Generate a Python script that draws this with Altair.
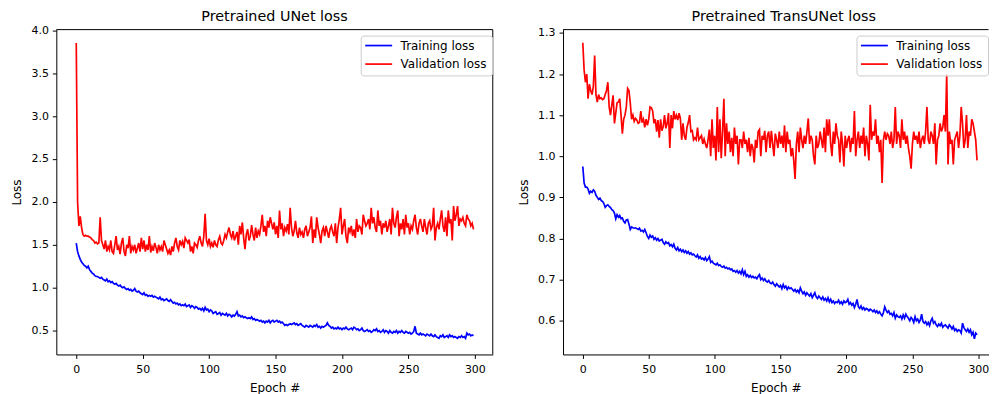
import altair as alt
import pandas as pd

epochs = list(range(300))

unet_train = [
    1.52, 1.42, 1.37, 1.33, 1.30, 1.28, 1.26, 1.25, 1.23, 1.25,
    1.21, 1.19, 1.17, 1.16, 1.14, 1.13, 1.13, 1.12, 1.11, 1.12,
    1.10, 1.09, 1.08, 1.10, 1.07, 1.08, 1.06, 1.07, 1.05, 1.04,
    1.05, 1.03, 1.02, 1.03, 1.01, 1.00, 1.01, 0.99, 0.98, 0.99,
    0.97, 0.98, 0.96, 0.97, 0.99, 0.96, 0.95, 0.96, 0.94, 0.93,
    0.92, 0.94, 0.91, 0.92, 0.90, 0.91, 0.90, 0.91, 0.89, 0.90,
    0.89, 0.88, 0.87, 0.89, 0.86, 0.87, 0.85, 0.86, 0.87, 0.85,
    0.84, 0.86, 0.84, 0.82, 0.83, 0.81, 0.82, 0.80, 0.81, 0.79,
    0.80, 0.79, 0.81, 0.78, 0.79, 0.80, 0.77, 0.79, 0.78, 0.76,
    0.78, 0.77, 0.75, 0.76, 0.74, 0.76, 0.73, 0.77, 0.74, 0.75,
    0.72, 0.74, 0.73, 0.70, 0.71, 0.72, 0.69, 0.70, 0.71, 0.68,
    0.70, 0.69, 0.68, 0.70, 0.67, 0.69, 0.68, 0.66, 0.68, 0.67,
    0.69, 0.72, 0.67, 0.68, 0.66, 0.67, 0.65, 0.66, 0.65, 0.64,
    0.65, 0.64, 0.66, 0.63, 0.64, 0.62, 0.63, 0.62, 0.61, 0.62,
    0.60, 0.61, 0.59, 0.61, 0.60, 0.62, 0.59, 0.61, 0.62, 0.60,
    0.61, 0.62, 0.60, 0.61, 0.59, 0.60, 0.58, 0.56, 0.57, 0.56,
    0.57, 0.58, 0.57, 0.58, 0.59, 0.57, 0.58, 0.56, 0.57, 0.58,
    0.56, 0.55, 0.54, 0.56, 0.55, 0.54, 0.56, 0.55, 0.54, 0.56,
    0.55, 0.57, 0.54, 0.55, 0.53, 0.55, 0.54, 0.55, 0.56, 0.59,
    0.56, 0.55, 0.53, 0.54, 0.52, 0.53, 0.52, 0.54, 0.52, 0.53,
    0.51, 0.53, 0.52, 0.54, 0.52, 0.51, 0.52, 0.53, 0.51, 0.54,
    0.53, 0.51, 0.52, 0.50, 0.51, 0.53, 0.50, 0.49, 0.50, 0.51,
    0.49, 0.50, 0.48, 0.49, 0.51, 0.50, 0.52, 0.49, 0.50, 0.48,
    0.49, 0.51, 0.48, 0.50, 0.49, 0.47, 0.50, 0.48, 0.47, 0.49,
    0.48, 0.50, 0.47, 0.49, 0.48, 0.50, 0.48, 0.47, 0.49, 0.48,
    0.47, 0.48, 0.46, 0.47, 0.49, 0.55, 0.47, 0.46, 0.45, 0.47,
    0.45, 0.46, 0.45, 0.44, 0.46, 0.45, 0.44, 0.46, 0.44, 0.43,
    0.45, 0.43, 0.42, 0.41, 0.44, 0.43, 0.45, 0.42, 0.43, 0.44,
    0.42, 0.45, 0.43, 0.44, 0.42, 0.43, 0.42, 0.41, 0.43, 0.42,
    0.44, 0.42, 0.43, 0.41, 0.47, 0.45, 0.46, 0.44, 0.45, 0.44,
]

unet_val = [
    3.85, 2.00, 1.72, 1.83, 1.70, 1.62, 1.60, 1.61, 1.60, 1.60,
    1.59, 1.58, 1.56, 1.55, 1.52, 1.53, 1.51, 1.52, 1.82, 1.55,
    1.50, 1.45, 1.55, 1.42, 1.48, 1.44, 1.55, 1.42, 1.40, 1.50,
    1.60, 1.44, 1.48, 1.39, 1.52, 1.58, 1.42, 1.37, 1.50, 1.46,
    1.60, 1.40, 1.48, 1.44, 1.50, 1.40, 1.46, 1.52, 1.42, 1.58,
    1.45, 1.55, 1.42, 1.50, 1.44, 1.60, 1.41, 1.48, 1.43, 1.52,
    1.47, 1.40, 1.50, 1.44, 1.48, 1.42, 1.55, 1.50, 1.45, 1.40,
    1.44, 1.38, 1.48, 1.42, 1.52, 1.58, 1.48, 1.44, 1.55, 1.50,
    1.54, 1.46, 1.58, 1.55, 1.52, 1.56, 1.42, 1.48, 1.40, 1.52,
    1.50, 1.47, 1.55, 1.60, 1.52, 1.48, 1.60, 1.86, 1.55, 1.50,
    1.57, 1.48, 1.52, 1.47, 1.55, 1.50, 1.48, 1.56, 1.60, 1.52,
    1.50, 1.55, 1.62, 1.58, 1.65, 1.70, 1.62, 1.58, 1.66, 1.55,
    1.60, 1.65, 1.50, 1.72, 1.62, 1.76, 1.58, 1.45, 1.62, 1.68,
    1.55, 1.60, 1.73, 1.62, 1.55, 1.70, 1.58, 1.66, 1.62, 1.72,
    1.85, 1.65, 1.72, 1.60, 1.78, 1.70, 1.82, 1.75, 1.68, 1.76,
    1.62, 1.72, 1.58, 1.90, 1.68, 1.75, 1.60, 1.70, 1.66, 1.74,
    1.62, 1.93, 1.70, 1.60, 1.66, 1.78, 1.64, 1.58, 1.70, 1.62,
    1.65, 1.58, 1.68, 1.72, 1.60, 1.65, 1.70, 1.83, 1.52, 1.68,
    1.58, 1.82, 1.70, 1.62, 1.52, 1.66, 1.70, 1.60, 1.72, 1.65,
    1.58, 1.68, 1.72, 1.65, 1.60, 1.75, 1.52, 1.70, 1.80, 1.93,
    1.62, 1.72, 1.80, 1.60, 1.52, 1.70, 1.65, 1.72, 1.60, 1.68,
    1.58, 1.80, 1.65, 1.72, 1.70, 1.62, 1.85, 1.78, 1.72, 1.75,
    1.80, 1.68, 1.93, 1.75, 1.82, 1.70, 1.65, 1.90, 1.72, 1.78,
    1.62, 1.75, 1.70, 1.78, 1.65, 1.72, 1.80, 1.62, 1.93, 1.75,
    1.70, 1.82, 1.90, 1.60, 1.75, 1.68, 1.80, 1.62, 1.85, 1.70,
    1.75, 1.62, 1.72, 1.68, 1.78, 1.85, 1.70, 1.62, 1.75, 1.80,
    1.72, 1.65, 1.80, 1.70, 1.62, 1.75, 1.78, 1.68, 1.72, 1.93,
    1.55, 1.70, 1.75, 1.68, 1.80, 1.90, 1.72, 1.65, 1.82, 1.60,
    1.90, 1.75, 1.80, 1.55, 1.95, 1.78, 1.85, 1.95, 1.72, 1.80,
    1.78, 1.82, 1.75, 1.72, 1.85, 1.80, 1.78, 1.72, 1.75, 1.68,
]

trans_train = [
    0.975, 0.935, 0.925, 0.925, 0.920, 0.910, 0.915, 0.912, 0.918, 0.915,
    0.905, 0.900, 0.895, 0.898, 0.892, 0.890, 0.885, 0.876, 0.880, 0.882,
    0.878, 0.875, 0.870, 0.868, 0.862, 0.848, 0.858, 0.852, 0.856, 0.848,
    0.850, 0.842, 0.838, 0.845, 0.846, 0.835, 0.822, 0.828, 0.826, 0.825,
    0.826, 0.824, 0.822, 0.825, 0.818, 0.820, 0.816, 0.822, 0.814, 0.805,
    0.800, 0.808, 0.803, 0.806, 0.798, 0.802, 0.796, 0.800, 0.794, 0.796,
    0.798, 0.790, 0.786, 0.792, 0.788, 0.790, 0.782, 0.785, 0.780, 0.786,
    0.776, 0.772, 0.778, 0.770, 0.774, 0.768, 0.772, 0.766, 0.770, 0.764,
    0.768, 0.762, 0.765, 0.760, 0.762, 0.758, 0.755, 0.760, 0.752, 0.756,
    0.750, 0.752, 0.748, 0.754, 0.746, 0.750, 0.756, 0.742, 0.745, 0.740,
    0.738, 0.736, 0.740, 0.734, 0.736, 0.732, 0.730, 0.733, 0.728, 0.730,
    0.726, 0.728, 0.724, 0.726, 0.720, 0.722, 0.718, 0.722, 0.716, 0.720,
    0.714, 0.724, 0.712, 0.720, 0.708, 0.712, 0.706, 0.710, 0.705, 0.708,
    0.704, 0.706, 0.702, 0.708, 0.712, 0.700, 0.704, 0.698, 0.702, 0.696,
    0.694, 0.698, 0.692, 0.690, 0.694, 0.688, 0.684, 0.690, 0.686, 0.682,
    0.686, 0.678, 0.688, 0.680, 0.684, 0.676, 0.682, 0.678, 0.680, 0.676,
    0.672, 0.676, 0.670, 0.674, 0.668, 0.680, 0.672, 0.666, 0.670, 0.662,
    0.668, 0.664, 0.660, 0.666, 0.656, 0.662, 0.668, 0.658, 0.654, 0.660,
    0.656, 0.652, 0.658, 0.650, 0.654, 0.648, 0.656, 0.646, 0.652, 0.644,
    0.648, 0.642, 0.646, 0.644, 0.650, 0.642, 0.646, 0.640, 0.648, 0.644,
    0.646, 0.652, 0.640, 0.644, 0.638, 0.642, 0.632, 0.640, 0.652, 0.634,
    0.630, 0.636, 0.628, 0.632, 0.626, 0.630, 0.628, 0.624, 0.628, 0.626,
    0.622, 0.626, 0.620, 0.624, 0.618, 0.622, 0.616, 0.612, 0.620, 0.634,
    0.626, 0.620, 0.624, 0.616, 0.618, 0.612, 0.620, 0.606, 0.614, 0.610,
    0.608, 0.612, 0.604, 0.614, 0.606, 0.616, 0.610, 0.606, 0.600, 0.608,
    0.604, 0.596, 0.610, 0.600, 0.604, 0.596, 0.602, 0.616, 0.598, 0.594,
    0.598, 0.590, 0.596, 0.588, 0.600, 0.606, 0.594, 0.598, 0.590, 0.586,
    0.592, 0.588, 0.594, 0.584, 0.588, 0.590, 0.586, 0.582, 0.590, 0.586,
    0.580, 0.586, 0.576, 0.580, 0.574, 0.578, 0.576, 0.570, 0.594, 0.584,
    0.578, 0.574, 0.580, 0.572, 0.578, 0.566, 0.572, 0.556, 0.570, 0.566,
]

trans_val = [
    1.276, 1.210, 1.180, 1.200, 1.140, 1.175, 1.160, 1.150, 1.170, 1.245,
    1.150, 1.132, 1.150, 1.140, 1.142, 1.138, 1.140, 1.150, 1.160, 1.180,
    1.120, 1.100, 1.125, 1.148, 1.080, 1.105, 1.130, 1.132, 1.140, 1.100,
    1.055, 1.090, 1.100, 1.120, 1.165, 1.160, 1.130, 1.090, 1.100, 1.085,
    1.092, 1.088, 1.080, 1.082, 1.110, 1.082, 1.090, 1.070, 1.090, 1.075,
    1.090, 1.120, 1.118, 1.110, 1.080, 1.090, 1.060, 1.088, 1.045, 1.090,
    1.062, 1.072, 1.100, 1.068, 1.080, 1.105, 1.020, 1.100, 1.068, 1.110,
    1.090, 1.100, 1.088, 1.105, 1.092, 1.040, 1.080, 1.050, 1.040, 1.070,
    1.082, 1.100, 1.060, 1.062, 1.040, 1.045, 1.040, 1.070, 1.040, 1.045,
    1.050, 1.030, 1.042, 1.030, 1.020, 1.040, 1.065, 1.000, 1.090, 1.020,
    1.050, 0.990, 1.120, 1.010, 1.090, 0.995, 1.060, 1.140, 1.000, 1.080,
    1.030, 1.060, 1.010, 1.045, 1.000, 1.070, 1.030, 1.050, 0.980, 1.040,
    1.040, 1.020, 1.060, 1.030, 1.040, 1.010, 1.045, 1.000, 1.030, 1.020,
    0.985, 1.040, 1.020, 1.060, 1.065, 1.000, 1.050, 1.040, 1.062, 1.010,
    1.050, 1.060, 1.020, 1.062, 1.030, 1.000, 1.055, 1.040, 1.020, 1.060,
    1.030, 1.050, 1.020, 1.075, 1.010, 1.060, 1.030, 1.040, 1.000, 1.020,
    0.990, 0.945, 1.030, 1.060, 1.010, 1.070, 1.040, 1.020, 1.050, 1.030,
    1.060, 1.092, 1.030, 1.050, 1.040, 1.000, 0.980, 1.050, 1.020, 1.030,
    1.060, 1.040, 1.020, 1.070, 1.010, 1.090, 1.050, 1.090, 1.030, 1.000,
    1.060, 1.030, 1.080, 1.050, 1.040, 0.985, 1.060, 1.030, 0.975, 1.050,
    1.020, 1.040, 1.050, 1.010, 1.045, 1.030, 1.110, 1.000, 1.040, 1.060,
    1.020, 1.050, 1.030, 1.070, 1.000, 1.050, 1.030, 0.990, 1.125, 1.040,
    1.060, 1.050, 1.090, 1.030, 1.050, 1.010, 1.040, 0.935, 1.040, 1.060,
    1.040, 1.055, 1.050, 1.030, 1.060, 1.020, 1.040, 1.120, 1.030, 1.060,
    1.050, 1.020, 1.090, 1.040, 1.060, 1.030, 1.050, 1.020, 1.000, 0.970,
    1.030, 1.060, 1.040, 1.050, 1.030, 1.060, 1.020, 1.040, 1.050, 1.030,
    1.060, 1.120, 1.040, 1.030, 1.060, 1.050, 1.030, 1.080, 0.980, 1.040,
    1.050, 1.080, 1.060, 1.070, 1.100, 1.060, 1.200, 0.980, 1.060, 1.030,
    1.040, 0.980, 1.040, 1.050, 1.060, 1.020, 1.050, 1.120, 1.080, 1.020,
    1.040, 1.100, 1.020, 1.060, 1.050, 1.090, 1.080, 1.060, 1.040, 0.990,
]

series_names = ["Training loss", "Validation loss"]
series_colors = ["#0000ff", "#ff0000"]

panel_titles = ["Pretrained UNet loss", "Pretrained TransUNet loss"]
unet_yticks = [0.5, 1.0, 1.5, 2.0, 2.5, 3.0, 3.5, 4.0]
trans_yticks = [0.6, 0.7, 0.8, 0.9, 1.0, 1.1, 1.2, 1.3]
epoch_ticks = [0, 50, 100, 150, 200, 250, 300]

FONT = "DejaVu Sans"
H = 326
one_row = alt.Data(values=[{"k": 0}])


def panel(train, val, title, ydomain, yticks, xdomain, width, right_spine, title_cx):
    n = len(epochs)
    df = pd.DataFrame({
        "epoch": epochs + epochs,
        "loss": train + val,
        "series": [series_names[0]] * n + [series_names[1]] * n,
    })
    lines = alt.Chart(df).mark_line(strokeWidth=1.7, clip=True).encode(
        x=alt.X("epoch:Q",
                scale=alt.Scale(domain=xdomain, nice=False, zero=False),
                axis=alt.Axis(values=epoch_ticks, title="Epoch #", labelFlush=False,
                              format="d")),
        y=alt.Y("loss:Q",
                scale=alt.Scale(domain=ydomain, nice=False, zero=False),
                axis=alt.Axis(values=yticks, title="Loss", format=".1f")),
        color=alt.Color("series:N",
                        scale=alt.Scale(domain=series_names, range=series_colors),
                        legend=None),
    )
    layers = [lines]
    # top spine (and right spine for the left panel)
    layers.append(alt.Chart(one_row).mark_rule(color="black", strokeWidth=1).encode(
        x=alt.value(0), x2=alt.value(width), y=alt.value(0)))
    if right_spine:
        layers.append(alt.Chart(one_row).mark_rule(color="black", strokeWidth=1).encode(
            x=alt.value(width), y=alt.value(0), y2=alt.value(H)))
    # panel title
    layers.append(alt.Chart(one_row).mark_text(
        text=title, align="center", baseline="alphabetic", font=FONT, fontSize=14.4,
        color="black"
    ).encode(x=alt.value(title_cx), y=alt.value(-8.2)))
    # legend (upper right)
    bx = width - 132
    layers.append(alt.Chart(one_row).mark_rect(
        fill="white", fillOpacity=0.8, stroke="#cccccc", strokeWidth=1, cornerRadius=3
    ).encode(x=alt.value(bx), x2=alt.value(width),
             y=alt.value(6.5), y2=alt.value(46.5)))
    for i, (name, col) in enumerate(zip(series_names, series_colors)):
        yy = 16 + 18.6 * i
        layers.append(alt.Chart(one_row).mark_rule(color=col, strokeWidth=1.7).encode(
            x=alt.value(bx + 4), x2=alt.value(bx + 31), y=alt.value(yy)))
        layers.append(alt.Chart(one_row).mark_text(
            text=name, align="left", baseline="middle", font=FONT, fontSize=12, color="black"
        ).encode(x=alt.value(bx + 39.5), y=alt.value(yy)))
    return alt.layer(*layers).properties(width=width, height=H)


left = panel(unet_train, unet_val, panel_titles[0], [0.222, 4.007], unet_yticks,
             [-15, 313.5], 438, True, 219)
right = panel(trans_train, trans_val, panel_titles[1], [0.518, 1.308], trans_yticks,
              [-15, 307.7], 427, False, 221.5)

chart = alt.hconcat(left, right, spacing=23.5).properties(
    padding={"left": 2.5, "top": 0, "right": 0, "bottom": 0}
).configure_view(strokeOpacity=0).configure_axis(
    domain=True, domainColor="black", domainWidth=1,
    ticks=True, tickColor="black", tickWidth=1, tickSize=4,
    labelFont=FONT, labelFontSize=11, labelColor="black",
    titleFont=FONT, titleFontSize=12, titleColor="black", titleFontWeight="normal",
    grid=False,
).configure_axisX(labelPadding=5.5, titlePadding=7.5).configure_axisY(
    labelPadding=4, titlePadding=7)

chart.save("out.html", embed_options={"renderer": "svg", "actions": False})
